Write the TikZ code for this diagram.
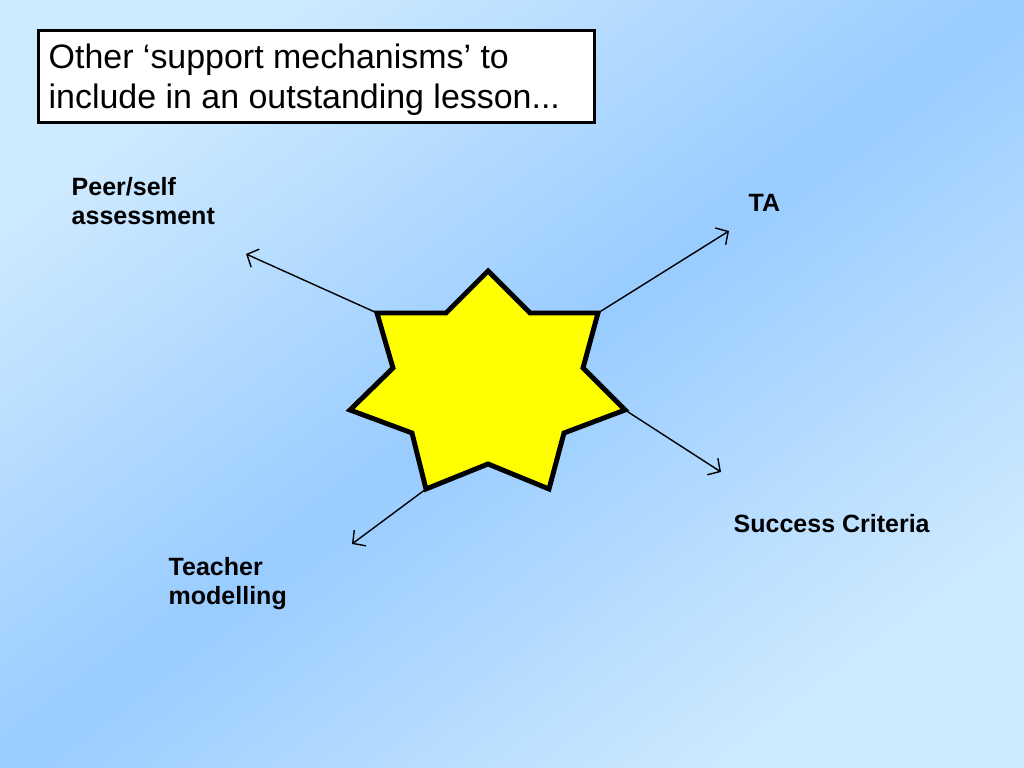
\documentclass[tikz,border=0pt]{standalone}
\usepackage{fontspec}
\setmainfont{Liberation Sans}
\usetikzlibrary{arrows.meta}
\definecolor{bglight}{RGB}{206,234,255}
\definecolor{bgdark}{RGB}{153,204,255}
\definecolor{staryellow}{RGB}{255,255,0}
\tikzset{
  starshape/.style={fill=staryellow, draw=black, line width=1.4pt, line join=miter},
  pointer/.style={draw=black, line width=0.4pt, -{Straight Barb[length=2.6pt,width=5.6pt]}},
  lbl/.style={anchor=base west, inner sep=0pt, align=left, text=black,
    font=\fontsize{7.11pt}{8.25pt}\selectfont\bfseries},
  titlebox/.style={draw=black, line width=0.85pt, fill=white, inner sep=0pt,
    anchor=north west, minimum width=5.56cm, minimum height=0.92cm},
  titletext/.style={anchor=base west, inner sep=0pt, align=left, text=black,
    font=\fontsize{9.65pt}{11.4pt}\selectfont},
}
\begin{document}
\begin{tikzpicture}[x=0.01cm,y=-0.01cm]
\useasboundingbox (0,0) rectangle (1024,768);
\shade[top color=bglight, bottom color=bglight, middle color=bgdark, shading angle=37]
  (0,0) rectangle (1024,768);

% title (node base = baseline of last line)
\node[titlebox] (title) at (37,29) {};
\node[titletext] (titletxt) at (48,109) {Other ‘support mechanisms’ to\\include in an outstanding lesson...};

% star coordinates
\coordinate (p1) at (488,271);
\coordinate (i1) at (530,313);
\coordinate (p2) at (598,313);
\coordinate (i2) at (583,368);
\coordinate (p3) at (625,410);
\coordinate (i3) at (564,433);
\coordinate (p4) at (549,489);
\coordinate (i4) at (488,464);
\coordinate (p5) at (426,489);
\coordinate (i5) at (412,433);
\coordinate (p6) at (350,410);
\coordinate (i6) at (393,368);
\coordinate (p7) at (377,313);
\coordinate (i7) at (446,313);

% arrow ends
\coordinate (e7) at (246,254);
\coordinate (e2) at (729,231);
\coordinate (e3) at (721,472);
\coordinate (e5) at (352,544);

\draw[pointer] (p7) -- (e7);
\draw[pointer] (p2) -- (e2);
\draw[pointer] (p3) -- (e3);
\draw[pointer] (p5) -- (e5);

\draw[starshape] (p1) -- (i1) -- (p2) -- (i2) -- (p3) -- (i3) -- (p4) -- (i4)
  -- (p5) -- (i5) -- (p6) -- (i6) -- (p7) -- (i7) -- cycle;

% labels (node base = baseline of last line)
\node[lbl] (peer) at (71,225) {Peer/self\\assessment};
\node[lbl] (ta) at (748,212) {TA};
\node[lbl] (sc) at (733,533) {Success Criteria};
\node[lbl] (teacher) at (168,605) {Teacher\\modelling};
\end{tikzpicture}
\end{document}
